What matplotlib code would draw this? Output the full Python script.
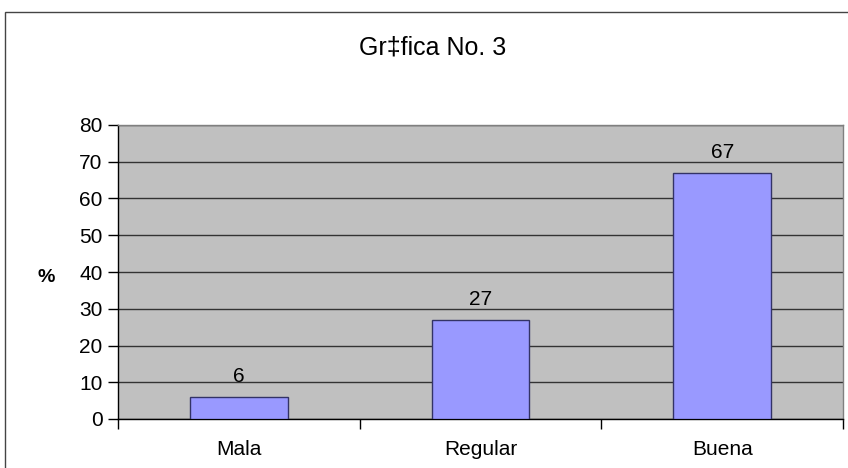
import matplotlib
matplotlib.use("Agg")
import matplotlib.pyplot as plt
from matplotlib.patches import Rectangle

categories = ["Mala", "Regular", "Buena"]
values = [6, 27, 67]
yticks = [0, 10, 20, 30, 40, 50, 60, 70, 80]
title = "Gr\u2021fica No. 3"
ylabel = "%"

plt.rcParams['font.family'] = ['Liberation Sans', 'DejaVu Sans']

fig = plt.figure(figsize=(8.48, 4.68), dpi=100)
fig.patch.set_facecolor("white")

# outer chart border
fig.add_artist(Rectangle((5/848, -0.05), 1.2, 1 - 12/468 + 0.05,
                         transform=fig.transFigure, fill=False,
                         edgecolor="#444444", linewidth=1.0))

ax = fig.add_axes([118/848, 1 - 419/468, (843 - 118)/848, (419 - 125)/468])
ax.set_facecolor("#C0C0C0")

x = list(range(len(categories)))
ax.bar(x, values, width=0.405, color="#9999FF", edgecolor="#333366",
       linewidth=1.0, zorder=3)

for xi, v in zip(x, values):
    ax.annotate(str(v), (xi, v), xytext=(0, 8), textcoords="offset points",
                ha="center", va="bottom", fontsize=15, color="black")

ax.set_xlim(-0.5, 2.5)
ax.set_ylim(0, 80)
ax.set_yticks(yticks)
ax.tick_params(axis="y", direction="out", length=7, width=1, labelsize=15, pad=4)
ax.yaxis.grid(True, color="#333333", linewidth=1.0, zorder=1)
ax.set_axisbelow(True)

ax.set_xticks(x)
ax.set_xticklabels(categories, fontsize=15)
ax.tick_params(axis="x", which="major", length=0, pad=15)
ax.set_xticks([-0.5, 0.5, 1.5, 2.5], minor=True)
ax.tick_params(axis="x", which="minor", direction="out", length=7, width=1)

for s in ["top", "right"]:
    ax.spines[s].set_color("#808080")
    ax.spines[s].set_linewidth(1.0)
for s in ["left", "bottom"]:
    ax.spines[s].set_color("black")
    ax.spines[s].set_linewidth(1.0)

fig.text(46/848, 1 - 278/468, ylabel, fontsize=14, fontweight="bold",
         ha="center", va="center")
fig.text(433/848, 1 - 47/468, title, fontsize=18, ha="center", va="center")

fig.savefig("out.png", dpi=100)
